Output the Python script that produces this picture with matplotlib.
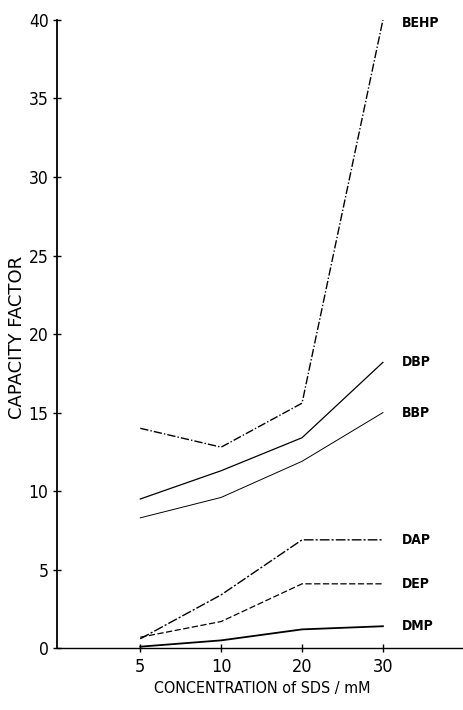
import matplotlib
matplotlib.use('Agg')
import matplotlib.pyplot as plt

conc_labels = ["5", "10", "20", "30"]
behp = [14.0, 12.8, 15.6, 40.0]
dbp = [9.5, 11.3, 13.4, 18.2]
bbp = [8.3, 9.6, 11.9, 15.0]
dap = [0.6, 3.4, 6.9, 6.9]
dep = [0.7, 1.7, 4.1, 4.1]
dmp = [0.1, 0.5, 1.2, 1.4]

names = ["BEHP", "DBP", "BBP", "DAP", "DEP", "DMP"]
series = [behp, dbp, bbp, dap, dep, dmp]
styles = [(0, (6, 1.5, 1, 1.5)), '-', '-', (0, (7, 1.5, 1.5, 1.5)), (0, (5, 2)), '-']
widths = [1.0, 0.9, 0.7, 1.0, 0.9, 1.3]
label_offsets = [-0.2, 0.0, 0.0, 0.0, 0.0, 0.0]

font = ['DejaVu Sans']

fig = plt.figure(figsize=(4.63, 7.10), dpi=100)
ax = fig.add_axes([0.123, 0.087, 0.877, 0.885])

x = list(range(len(conc_labels)))
for name, ys, ls, lw, off in zip(names, series, styles, widths, label_offsets):
    ax.plot(x, ys, color='black', linestyle=ls, linewidth=lw)
    ax.text(x[-1] + 0.24, ys[-1] + off, name, fontsize=10, fontweight='bold',
            family=font, stretch='condensed', va='center', ha='left')

ax.set_xlim(-1.03, 3.99)
ax.set_ylim(0, 40)
ax.set_xticks(x)
ax.set_xticklabels(conc_labels, family=font, stretch='condensed', fontsize=13)
ax.set_yticks(range(0, 41, 5))
ax.set_yticklabels([str(v) for v in range(0, 41, 5)], family=font,
                   stretch='condensed', fontsize=12.5)
ax.tick_params(direction='inout', length=6, width=1, pad=4)
ax.tick_params(axis='y', pad=3)
ax.spines['top'].set_visible(False)
ax.spines['right'].set_visible(False)
ax.spines['left'].set_linewidth(1.3)
ax.spines['bottom'].set_linewidth(1.0)

ax.set_xlabel('CONCENTRATION of SDS / mM', family=font, stretch='condensed', fontsize=11.5)
ax.xaxis.set_label_coords((262 - 57) / 406, -(688 - 648) / 628)
ax.set_ylabel('CAPACITY FACTOR', family=font, fontsize=13)
ax.yaxis.set_label_coords(-(57 - 17) / 406, (648 - 337) / 628)
ax.yaxis.label.set_va('center')
ax.xaxis.label.set_va('center')

fig.savefig('out.png', dpi=100)
